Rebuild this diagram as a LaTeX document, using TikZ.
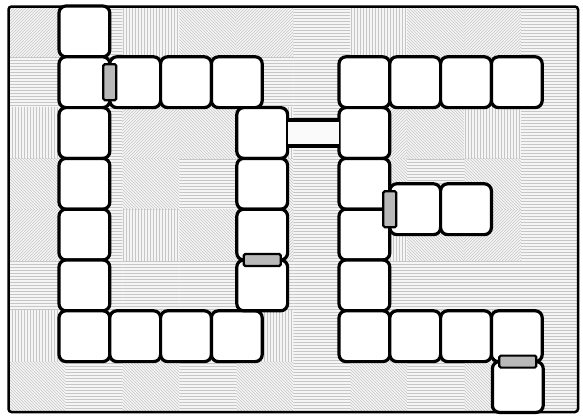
\documentclass[tikz,border=0pt]{standalone}
\usetikzlibrary{patterns}
\begin{document}
\begin{tikzpicture}[x=1pt,y=-1pt,
  cell/.style={draw=black, fill=white, line width=3.2pt, rounded corners=7pt,
    minimum width=50.8pt, minimum height=50.8pt, inner sep=0pt, outer sep=0pt},
  door/.style={draw=black, fill=gray!55, line width=2.2pt, rounded corners=1.5pt,
    inner sep=0pt, outer sep=0pt},
  vdoor/.style={door, minimum width=13pt, minimum height=36pt},
  hdoor/.style={door, minimum width=37pt, minimum height=12pt},
  rail/.style={line width=3.2pt},
  frame/.style={line width=2.5pt, rounded corners=3pt},
  pt0/.style={pattern=north east lines, pattern color=gray!45},
  pt1/.style={pattern=north west lines, pattern color=gray!45},
  pt2/.style={pattern=vertical lines, pattern color=gray!45},
  pt3/.style={pattern=horizontal lines, pattern color=gray!45}]
\useasboundingbox (0,0) rectangle (583,415);
% background texture
\fill[gray!8] (8.5,6.5) rectangle (578,412);
\foreach \i in {0,...,9} {
  \foreach \j in {0,...,7} {
    \pgfmathtruncatemacro\k{mod(7*\i+3*\j+\i*\j,4)}
    \fill[pt\k] ({8.5+56.95*\i},{6.5+50.7*\j}) rectangle ({8.5+56.95*(\i+1)},{6.5+50.7*(\j+1)});
  }
}
\draw[frame] (8.5,6.5) rectangle (578,412);
% D shape
\foreach \r in {0,...,6} \node[cell] (dl\r) at (84.4, {31.4+50.8*\r}) {};
\foreach \c in {1,2,3} \node[cell] (dt\c) at ({84.4+50.8*\c}, 82.2) {};
\foreach \c in {1,2,3} \node[cell] (db\c) at ({84.4+50.8*\c}, 336.2) {};
\foreach \r in {2,...,5} \node[cell] (dr\r) at (262.2, {31.4+50.8*\r}) {};
% E shape
\foreach \r in {1,...,6} \node[cell] (el\r) at (364.4, {31.4+50.8*\r}) {};
\foreach \c in {1,2,3} \node[cell] (et\c) at ({364.4+50.8*\c}, 82.2) {};
\foreach \c in {1,2,3} \node[cell] (eb\c) at ({364.4+50.8*\c}, 336.2) {};
\node[cell] (ea1) at (415.2, 209.2) {};
\node[cell] (ea2) at (466, 209.2) {};
\node[cell] (ex) at (517.8, 387) {};
% corridor
\fill[gray!4] ([yshift=13pt]dr2.east) rectangle ([yshift=-13pt]el2.west);
\draw[rail] ([yshift=13pt]dr2.east) -- ([yshift=13pt]el2.west);
\draw[rail] ([yshift=-13pt]dr2.east) -- ([yshift=-13pt]el2.west);
% doors
\node[vdoor] (door1) at (dl1.east) {};
\node[hdoor] (door2) at (dr4.south) {};
\node[vdoor] (door3) at (ea1.west) {};
\node[hdoor] (door4) at (ex.north) {};
\end{tikzpicture}
\end{document}
